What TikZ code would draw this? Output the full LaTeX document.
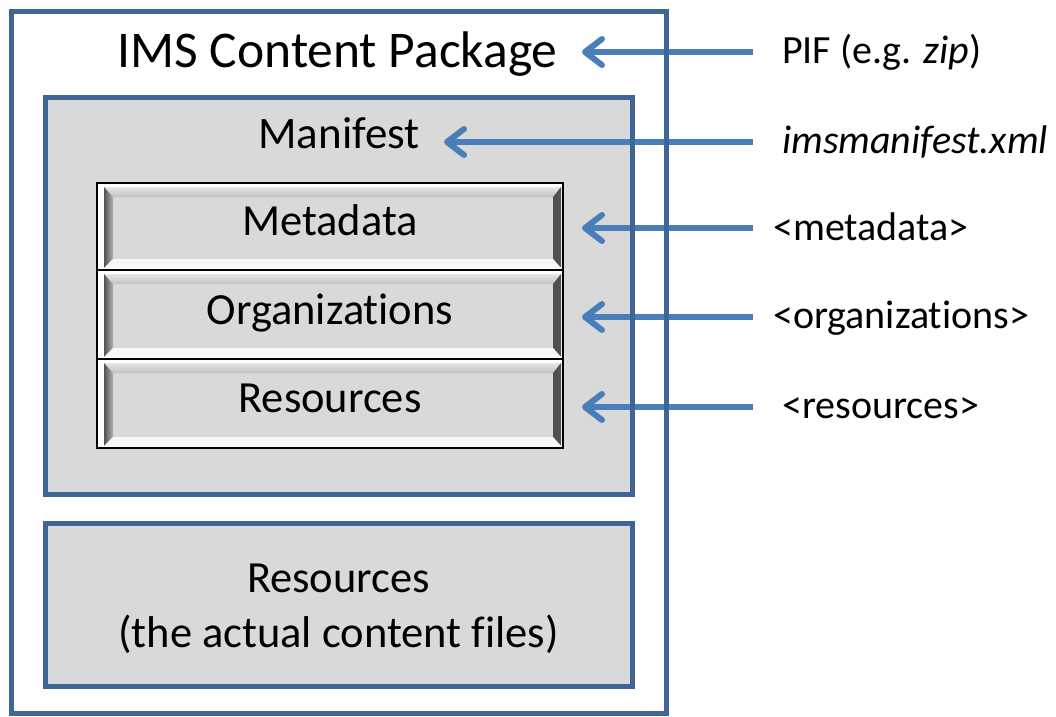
\documentclass[tikz,border=0pt]{standalone}
\usepackage{fontspec}
\setmainfont{Carlito}[Ligatures={NoCommon,NoDiscretionary,NoContextual}]
\usetikzlibrary{arrows.meta,calc}
\definecolor{boxblue}{HTML}{3F6496}
\definecolor{arrblue}{HTML}{4A7EBB}
\definecolor{facegray}{HTML}{D9D9D9}
\definecolor{darkbevel}{HTML}{505050}
\tikzset{
  bluebox/.style={draw=boxblue, line width=5pt, inner sep=0pt, outer sep=0pt},
  graybox/.style={bluebox, fill=facegray},
  btnbox/.style={draw=none, inner sep=0pt, outer sep=0pt, minimum width=462pt},
  txt/.style={inner sep=0pt, anchor=base},
  lbl/.style={inner sep=0pt, anchor=base west, font=\fontsize{40}{48}\selectfont},
  arr/.style={draw=arrblue, line width=6pt, -{Straight Barb[length=17pt,width=26pt,round]}},
}
\newcommand\mybtn[4]{% name, y1, y2, text node
  \node[btnbox, minimum height={(#3-#2)*1pt}] (#1) at (330,{(#2+#3)/2}) {};
  \fill[white] (97,#2) rectangle (563,#3);
  \fill[facegray] (113,#2+14) rectangle (553,#3-11);
  \shade[top color=black!10, bottom color=black!24] (104,#2+4) -- (561,#2+4) -- (553,#2+14) -- (113,#2+14) -- cycle;
  \shade[left color=black!68, right color=black!30] (104,#2+4) -- (113,#2+14) -- (113,#3-11) -- (104,#3-2) -- cycle;
  \fill[darkbevel] (561,#2+4) -- (561,#3-2) -- (553,#3-11) -- (553,#2+14) -- cycle;
  \fill[black!3] (104,#3-2) -- (113,#3-11) -- (553,#3-11) -- (561,#3-2) -- cycle;
  \draw[line width=2.2pt] (97,#2) rectangle (563,#3);
  #4
}
\begin{document}
\begin{tikzpicture}[x=1pt,y=-1pt]
\useasboundingbox (0,0) rectangle (1056,716);
% outer package box
\node[bluebox, minimum width=655pt, minimum height=702pt] (pkg) at (338.5,362) {};
\node[txt, font=\fontsize{51.5}{60}\selectfont] (title) at (337.5,67) {IMS Content Package};
% manifest box
\node[graybox, minimum width=587pt, minimum height=397pt] (man) at (338.5,295.5) {};
\node[txt, font=\fontsize{45}{54}\selectfont] (mantxt) at (339,148) {Manifest};
% buttons
\mybtn{meta}{183}{270}{\node[txt, font=\fontsize{44.5}{54}\selectfont] (metatxt) at (330,235) {Metadata};}
\mybtn{org}{270}{359}{\node[txt, font=\fontsize{44.5}{54}\selectfont] (orgtxt) at (330,324) {Organizations};}
\mybtn{res}{359}{448}{\node[txt, font=\fontsize{44.5}{54}\selectfont] (restxt) at (330,412) {Resources};}
% resources box
\node[graybox, minimum width=587pt, minimum height=163pt] (files) at (338.5,604.5) {};
\node[txt, font=\fontsize{44.5}{54}\selectfont] (filestxt1) at (338.5,592) {Resources};
\node[txt, font=\fontsize{44.5}{54}\selectfont] (filestxt2) at (338.5,647) {(the actual content files)};
% labels
\node[lbl] (l1) at (782,63) {PIF (e.g. \textit{zip})};
\node[lbl] (l2) at (782,153) {\textit{imsmanifest.xml}};
\node[lbl] (l3) at (773,240) {<metadata>};
\node[lbl] (l4) at (773,328) {<organizations>};
\node[lbl] (l5) at (782,418) {<resources>};
% arrow ends
\coordinate (s1) at (753,52);  \coordinate (e1) at (582,52);
\coordinate (s2) at (753,142); \coordinate (e2) at (444,142);
\coordinate (s3) at (753,228); \coordinate (e3) at (582,228);
\coordinate (s4) at (753,317); \coordinate (e4) at (582,317);
\coordinate (s5) at (753,407); \coordinate (e5) at (582,407);
\foreach \i in {1,...,5} \draw[arr] (s\i) -- (e\i);
% borders on top of arrows
\draw[draw=boxblue, line width=5pt] (pkg.north west) rectangle (pkg.south east);
\draw[draw=boxblue, line width=5pt] (man.north west) rectangle (man.south east);
\end{tikzpicture}
\end{document}
